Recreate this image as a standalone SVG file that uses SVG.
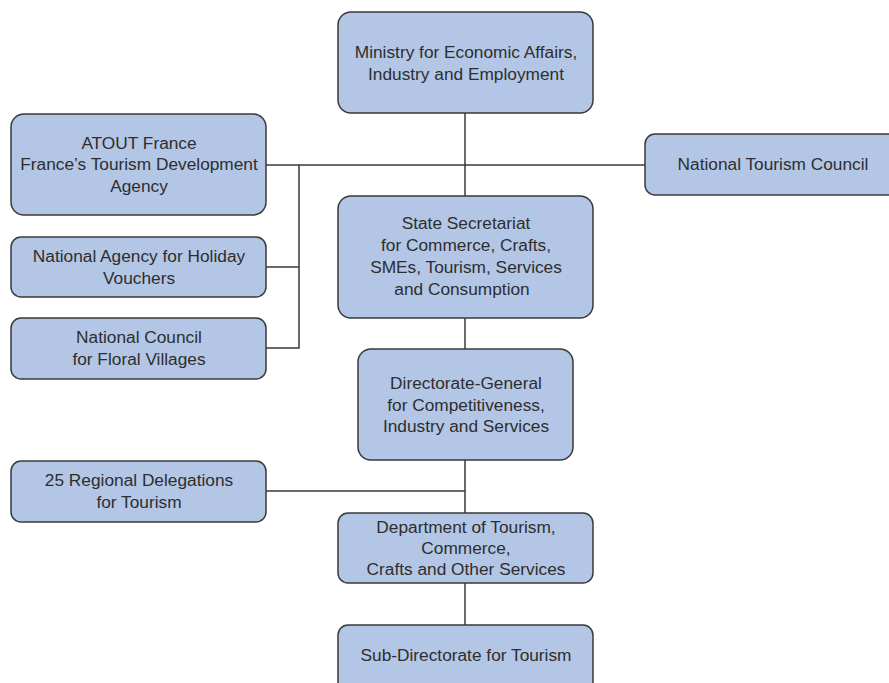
<svg xmlns="http://www.w3.org/2000/svg" width="889" height="683" viewBox="0 0 889 683">
<style>
.box{fill:#b3c6e6;stroke:#3a3a3a;stroke-width:1.5}
.t{font-family:"Liberation Sans",Arial,sans-serif;font-size:17.3px;fill:#2e2e2e;text-anchor:middle;dominant-baseline:central}
.c{fill:none;stroke:#3a3a3a;stroke-width:1.5}
</style>
<rect width="889" height="683" fill="#ffffff"/>
<g id="connectors">
<path class="c" d="M465,113 V196"/>
<path class="c" d="M266,165 H645"/>
<path class="c" d="M299,165 V348 H266 M266,267 H299"/>
<path class="c" d="M465,318 V349"/>
<path class="c" d="M465,460 V513 M266,491 H465"/>
<path class="c" d="M465,583 V625"/>
</g>
<g id="ministry">
<rect class="box" x="338" y="12" width="255" height="101" rx="13"/>
<text class="t" x="466" y="52">Ministry for Economic Affairs,</text>
<text class="t" x="466" y="74">Industry and Employment</text>
</g>
<g id="atout">
<rect class="box" x="11" y="114" width="255" height="101" rx="13"/>
<text class="t" x="139" y="143">ATOUT France</text>
<text class="t" x="139" y="164">France’s Tourism Development</text>
<text class="t" x="139" y="186">Agency</text>
</g>
<g id="holiday">
<rect class="box" x="11" y="237" width="255" height="60" rx="10"/>
<text class="t" x="139" y="256">National Agency for Holiday</text>
<text class="t" x="139" y="278">Vouchers</text>
</g>
<g id="floral">
<rect class="box" x="11" y="318" width="255" height="61" rx="10"/>
<text class="t" x="139" y="337">National Council</text>
<text class="t" x="139" y="359">for Floral Villages</text>
</g>
<g id="ntc">
<rect class="box" x="645" y="134" width="260" height="61" rx="10"/>
<text class="t" x="773" y="164">National Tourism Council</text>
</g>
<g id="state">
<rect class="box" x="338" y="196" width="255" height="122" rx="13"/>
<text class="t" x="466" y="223">State Secretariat</text>
<text class="t" x="466" y="245">for Commerce, Crafts,</text>
<text class="t" x="466" y="267">SMEs, Tourism, Services</text>
<text class="t" x="462" y="289">and Consumption</text>
</g>
<g id="dg">
<rect class="box" x="358" y="349" width="215" height="111" rx="13"/>
<text class="t" x="466" y="383">Directorate-General</text>
<text class="t" x="466" y="405">for Competitiveness,</text>
<text class="t" x="466" y="426">Industry and Services</text>
</g>
<g id="regional">
<rect class="box" x="11" y="461" width="255" height="61" rx="10"/>
<text class="t" x="139" y="480">25 Regional Delegations</text>
<text class="t" x="139" y="502">for Tourism</text>
</g>
<g id="dept">
<rect class="box" x="338" y="513" width="255" height="70" rx="10"/>
<text class="t" x="466" y="527">Department of Tourism,</text>
<text class="t" x="466" y="548">Commerce,</text>
<text class="t" x="466" y="569">Crafts and Other Services</text>
</g>
<g id="sub">
<rect class="box" x="338" y="625" width="255" height="80" rx="10"/>
<text class="t" x="466" y="655">Sub-Directorate for Tourism</text>
</g>
</svg>
